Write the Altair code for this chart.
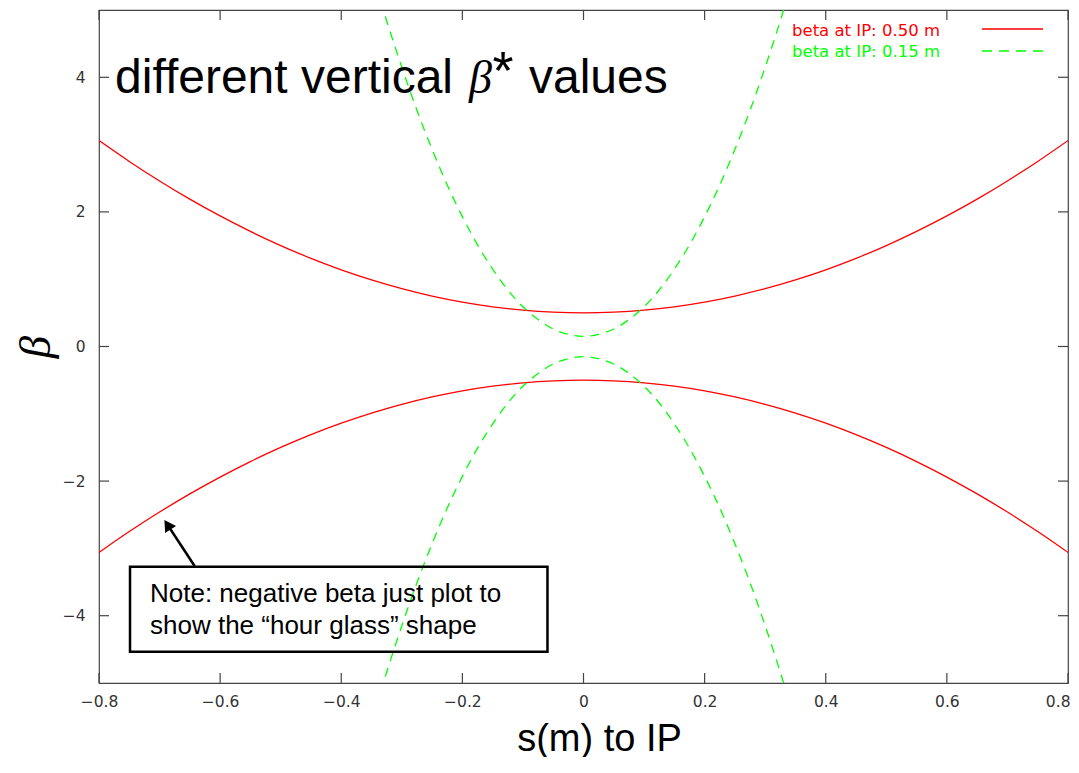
import altair as alt
import pandas as pd

# ---- data ----
s_red = [-0.80, -0.75, -0.70, -0.65, -0.60, -0.55, -0.50, -0.45, -0.40, -0.35, -0.30,
         -0.25, -0.20, -0.15, -0.10, -0.05, 0.00, 0.05, 0.10, 0.15, 0.20, 0.25, 0.30,
         0.35, 0.40, 0.45, 0.50, 0.55, 0.60, 0.65, 0.70, 0.75, 0.80]
beta_red_upper = [3.06, 2.75, 2.46, 2.19, 1.94, 1.71, 1.50, 1.31, 1.14, 0.99, 0.86,
                  0.75, 0.66, 0.59, 0.54, 0.51, 0.50, 0.51, 0.54, 0.59, 0.66, 0.75, 0.86,
                  0.99, 1.14, 1.31, 1.50, 1.71, 1.94, 2.19, 2.46, 2.75, 3.06]
beta_red_lower = [-3.06, -2.75, -2.46, -2.19, -1.94, -1.71, -1.50, -1.31, -1.14, -0.99, -0.86,
                  -0.75, -0.66, -0.59, -0.54, -0.51, -0.50, -0.51, -0.54, -0.59, -0.66, -0.75, -0.86,
                  -0.99, -1.14, -1.31, -1.50, -1.71, -1.94, -2.19, -2.46, -2.75, -3.06]

s_green = [-0.350, -0.325, -0.300, -0.275, -0.250, -0.225, -0.200, -0.175, -0.150, -0.125,
           -0.100, -0.075, -0.050, -0.025, 0.000, 0.025, 0.050, 0.075, 0.100, 0.125,
           0.150, 0.175, 0.200, 0.225, 0.250, 0.275, 0.300, 0.325, 0.350]
beta_green_upper = [5.59, 4.84, 4.15, 3.51, 2.93, 2.40, 1.93, 1.51, 1.15, 0.84,
                    0.59, 0.40, 0.26, 0.18, 0.15, 0.18, 0.26, 0.40, 0.59, 0.84,
                    1.15, 1.51, 1.93, 2.40, 2.93, 3.51, 4.15, 4.84, 5.59]
beta_green_lower = [-5.59, -4.84, -4.15, -3.51, -2.93, -2.40, -1.93, -1.51, -1.15, -0.84,
                    -0.59, -0.40, -0.26, -0.18, -0.15, -0.18, -0.26, -0.40, -0.59, -0.84,
                    -1.15, -1.51, -1.93, -2.40, -2.93, -3.51, -4.15, -4.84, -5.59]

series_labels = ["beta at IP: 0.50 m", "beta at IP: 0.15 m"]
series_colors = ["#ff0000", "#00ff00"]
x_ticks = [-0.8, -0.6, -0.4, -0.2, 0.0, 0.2, 0.4, 0.6, 0.8]
y_ticks = [-4, -2, 0, 2, 4]

note_text = "Note: negative beta just plot to\nshow the \u201chour glass\u201d shape"

# ---- tables ----
red_df = pd.DataFrame({
    "s": s_red + s_red,
    "beta": beta_red_upper + beta_red_lower,
    "branch": ["upper"] * len(s_red) + ["lower"] * len(s_red),
})
green_df = pd.DataFrame({
    "s": s_green + s_green,
    "beta": beta_green_upper + beta_green_lower,
    "branch": ["upper"] * len(s_green) + ["lower"] * len(s_green),
})
xt_df = pd.DataFrame({"s": x_ticks})
yt_df = pd.DataFrame({"beta": y_ticks})
one = pd.DataFrame({"k": [0]})

W, H = 969, 673
xscale = alt.Scale(domain=[-0.8, 0.8], nice=False, zero=False)
yscale = alt.Scale(domain=[-5, 5], nice=False, zero=False)

xaxis = alt.Axis(values=x_ticks, format=".1~f", ticks=False, domain=False, grid=False,
                 labelFont="DejaVu Sans", labelFontSize=15.5, labelColor="#333333",
                 labelPadding=11, labelFlush=False,
                 labelAlign={"condition": {"test": "datum.value >= 0.79", "value": "right"},
                             "value": "center"},
                 labelOffset={"condition": {"test": "datum.value >= 0.79", "value": 2},
                              "value": 0},
                 title="s(m) to IP", titleFont="Liberation Sans", titleFontSize=38,
                 titleFontWeight="normal", titleColor="#000000", titleX=500, titleY=67,
                 titleAlign="center", titleBaseline="alphabetic")
yaxis = alt.Axis(values=y_ticks, format="d", ticks=False, domain=False, grid=False,
                 labelFont="DejaVu Sans", labelFontSize=15.5, labelColor="#333333",
                 labelPadding=14,
                 title="\u03b2", titleFont="Liberation Serif", titleFontStyle="italic",
                 titleFontSize=45, titleFontWeight="normal", titleColor="#000000",
                 titleAngle=270, titleX=-64, titleY=336.5, titleAlign="center",
                 titleBaseline="middle")

red = alt.Chart(red_df).mark_line(color=series_colors[0], strokeWidth=1.3, clip=True,
                                  interpolate="monotone").encode(
    x=alt.X("s:Q", scale=xscale, axis=xaxis),
    y=alt.Y("beta:Q", scale=yscale, axis=yaxis),
    detail="branch:N",
)
green = alt.Chart(green_df).mark_line(color=series_colors[1], strokeWidth=1.3, clip=True,
                                      strokeDash=[9, 7], interpolate="monotone").encode(
    x="s:Q", y="beta:Q", detail="branch:N",
)

tick_style = dict(color="#444444", strokeWidth=1.2)
xt_bottom = alt.Chart(xt_df).mark_rule(**tick_style).encode(x="s:Q", y=alt.value(H), y2=alt.value(H - 10))
xt_top = alt.Chart(xt_df).mark_rule(**tick_style).encode(x="s:Q", y=alt.value(0), y2=alt.value(10))
yt_left = alt.Chart(yt_df).mark_rule(**tick_style).encode(y="beta:Q", x=alt.value(0), x2=alt.value(10))
yt_right = alt.Chart(yt_df).mark_rule(**tick_style).encode(y="beta:Q", x=alt.value(W), x2=alt.value(W - 10))

# title inside plot
t1 = alt.Chart(one).mark_text(text="different vertical", font="Liberation Sans", fontSize=48,
                              align="left", baseline="alphabetic", color="black").encode(
    x=alt.datum(-0.7735), y=alt.datum(3.771))
t2 = alt.Chart(one).mark_text(text="\u03b2", font="Liberation Serif", fontStyle="italic",
                              fontSize=46, align="center", baseline="alphabetic",
                              color="black").encode(x=alt.datum(-0.1700), y=alt.datum(3.771))
t3 = alt.Chart(one).mark_text(text="*", font="Liberation Sans", fontSize=54, align="center",
                              baseline="alphabetic", color="black").encode(
    x=alt.datum(-0.1330), y=alt.datum(3.82))
t4 = alt.Chart(one).mark_text(text="values", font="Liberation Sans", fontSize=48,
                              align="left", baseline="alphabetic", color="black").encode(
    x=alt.datum(-0.0900), y=alt.datum(3.771))

# legend (top right)
legend_layers = []
for i, (lab, col) in enumerate(zip(series_labels, series_colors)):
    legend_layers.append(
        alt.Chart(one).mark_text(text=lab, font="DejaVu Sans", fontSize=16.5, align="left",
                                 baseline="alphabetic", color=col).encode(
            x=alt.value(693), y=alt.value(25.7 + 21.6 * i)))
    dash = [1, 0] if i == 0 else [10, 7]
    legend_layers.append(
        alt.Chart(one).mark_rule(color=col, strokeWidth=1.3, strokeDash=dash).encode(
            x=alt.value(883), x2=alt.value(944), y=alt.value(19 + 22 * i)))

# note box and arrow
box = alt.Chart(one).mark_rect(fill="white", fillOpacity=0, stroke="black",
                               strokeWidth=2.5).encode(
    x=alt.datum(-0.7488), x2=alt.datum(-0.0595), y=alt.datum(-3.272), y2=alt.datum(-4.535))
note = alt.Chart(one).mark_text(text=note_text, lineBreak="\n", lineHeight=32,
                                font="Liberation Sans", fontSize=26, align="left",
                                baseline="alphabetic", color="black").encode(
    x=alt.datum(-0.7158), y=alt.datum(-3.792))
arrow_line = alt.Chart(one).mark_rule(color="black", strokeWidth=2.5).encode(
    x=alt.datum(-0.6421), y=alt.datum(-3.262), x2=alt.datum(-0.6869), y2=alt.datum(-2.649))
arrow_head = alt.Chart(one).mark_point(shape="triangle-up", filled=True, size=170,
                                       color="black", opacity=1, angle=326.6).encode(
    x=alt.datum(-0.6869), y=alt.datum(-2.649))

chart = alt.layer(
    red, green, xt_bottom, xt_top, yt_left, yt_right,
    t1, t2, t3, t4, *legend_layers, box, note, arrow_line, arrow_head,
).properties(
    width=W, height=H,
    autosize=alt.AutoSizeParams(type="none"),
    padding={"left": 91, "top": 2, "right": 3, "bottom": 74},
    background="white",
).configure_view(stroke="#444444", strokeWidth=1.2)

chart.save("out.html", embed_options={"renderer": "svg", "actions": False})
